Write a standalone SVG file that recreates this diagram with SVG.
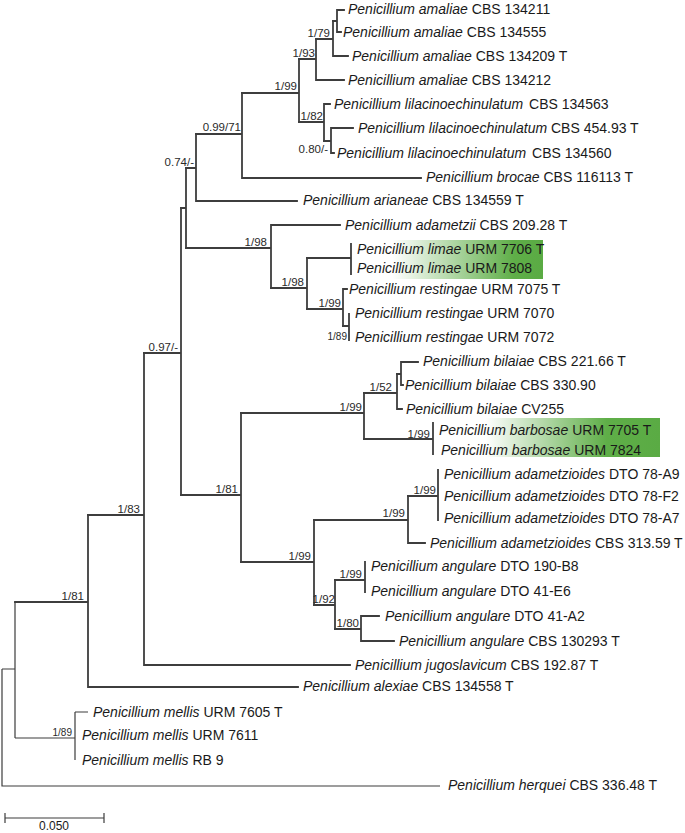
<svg xmlns="http://www.w3.org/2000/svg" width="685" height="833" viewBox="0 0 685 833">
<style>
.br{fill:none;stroke:#3d3d3d;stroke-width:1.8;stroke-linecap:square}
.thin{fill:none;stroke:#3d3d3d;stroke-width:1.2}
.leaf{font-family:"Liberation Sans",Arial,sans-serif;font-size:14px;fill:#1a1a1a}
.sp{font-style:italic}
.sup{font-family:"Liberation Sans",Arial,sans-serif;font-size:11.5px;fill:#2a2a2a;text-anchor:end}
.sm{font-size:10px}
.scale{font-family:"Liberation Sans",Arial,sans-serif;font-size:12px;fill:#1a1a1a;text-anchor:middle}
</style>
<defs>
<linearGradient id="g1" x1="0" y1="0" x2="1" y2="0">
<stop offset="0" stop-color="#ffffff"/>
<stop offset="0.22" stop-color="#ffffff"/>
<stop offset="0.85" stop-color="#5fae48"/>
<stop offset="1" stop-color="#5aab44"/>
</linearGradient>
<linearGradient id="g2" x1="0" y1="0" x2="1" y2="0">
<stop offset="0" stop-color="#ffffff"/>
<stop offset="0.28" stop-color="#ffffff"/>
<stop offset="0.78" stop-color="#5fae48"/>
<stop offset="1" stop-color="#5aab44"/>
</linearGradient>
</defs>
<rect width="685" height="833" fill="#ffffff"/>
<g id="highlights">
<rect x="350" y="240" width="193" height="39" fill="url(#g1)"/>
<rect x="418" y="418" width="242" height="39" fill="url(#g2)"/>
</g>
<g id="connectors">
<path class="br" d="M337,10V32M337,10H344M337,32H341M333,21H337"/>
<path class="br" d="M333,21V56M333,56H348M316,39H333"/>
<path class="br" d="M316,39V80M316,80H344M299,59H316"/>
<path class="br" d="M331,128V153M331,128H353M331,153H334M324,141H331"/>
<path class="br" d="M324,104V141M324,104H330M299,122H324"/>
<path class="br" d="M299,59V122M242,93H299"/>
<path class="br" d="M242,93V178H421M196,134H242"/>
<path class="br" d="M196,134V201H297M186,168H196"/>
<path class="br" d="M186,168V248M181,208H186"/>
<path class="br" d="M271,225V288M271,225H340M186,248H271"/>
<path class="br" d="M307,258V309M271,288H307"/>
<path class="br" d="M351,244V274M307,258H351"/>
<path class="br" d="M343,289V326M343,289H347M307,309H343"/>
<path class="br" d="M349,314V340M343,326H349"/>
<path class="br" d="M181,208V495M144,353H181"/>
<path class="br" d="M401,362V385M401,362H418M401,385H403M397,374H401"/>
<path class="br" d="M397,374V409H402M364,393H397"/>
<path class="br" d="M433,423V454M364,439H433"/>
<path class="br" d="M364,393V439M241,413H364"/>
<path class="br" d="M438,470V520M408,496H438"/>
<path class="br" d="M408,496V543H425M314,520H408"/>
<path class="br" d="M365,562V592M335,580H365"/>
<path class="br" d="M361,616V641H394M361,616H379M335,629H361"/>
<path class="br" d="M335,580V629M314,605H335"/>
<path class="br" d="M314,520V605M241,562H314"/>
<path class="br" d="M241,413V562M181,495H241"/>
<path class="br" d="M144,353V665H350M88,515H144"/>
<path class="br" d="M88,515V687H298M15,602H88"/>
<path class="thin" d="M75,712V760M75,712H88M15,738H75"/>
<path class="thin" d="M15,602V738M2,669H15"/>
<path class="thin" d="M2,669V786H440"/>
</g>
<g id="leaves">
<g id="L1"><text class="leaf" x="348" y="14"><tspan class="sp">Penicillium amaliae</tspan><tspan dx="4">CBS 134211</tspan></text></g>
<g id="L2"><text class="leaf" x="343" y="37"><tspan class="sp">Penicillium amaliae</tspan><tspan dx="4">CBS 134555</tspan></text></g>
<g id="L3"><text class="leaf" x="352" y="61"><tspan class="sp">Penicillium amaliae</tspan> CBS 134209 T</text></g>
<g id="L4"><text class="leaf" x="348" y="85"><tspan class="sp">Penicillium amaliae</tspan> CBS 134212</text></g>
<g id="L5"><text class="leaf" x="334" y="109"><tspan class="sp">Penicillium lilacinoechinulatum</tspan><tspan dx="6">CBS 134563</tspan></text></g>
<g id="L6"><text class="leaf" x="358" y="133"><tspan class="sp">Penicillium lilacinoechinulatum</tspan> CBS 454.93 T</text></g>
<g id="L7"><text class="leaf" x="337" y="158"><tspan class="sp">Penicillium lilacinoechinulatum</tspan><tspan dx="6">CBS 134560</tspan></text></g>
<g id="L8"><text class="leaf" x="426" y="182"><tspan class="sp">Penicillium brocae</tspan> CBS 116113 T</text></g>
<g id="L9"><text class="leaf" x="303" y="205"><tspan class="sp">Penicillium arianeae</tspan> CBS 134559 T</text></g>
<g id="L10"><text class="leaf" x="345" y="230"><tspan class="sp">Penicillium adametzii</tspan> CBS 209.28 T</text></g>
<g id="L11"><text class="leaf" x="357" y="254"><tspan class="sp">Penicillium limae</tspan> URM 7706 T</text></g>
<g id="L12"><text class="leaf" x="357" y="273"><tspan class="sp">Penicillium limae</tspan> URM 7808</text></g>
<g id="L13"><text class="leaf" x="349" y="294"><tspan class="sp">Penicillium restingae</tspan> URM 7075 T</text></g>
<g id="L14"><text class="leaf" x="355" y="318"><tspan class="sp">Penicillium restingae</tspan> URM 7070</text></g>
<g id="L15"><text class="leaf" x="355" y="342"><tspan class="sp">Penicillium restingae</tspan> URM 7072</text></g>
<g id="L16"><text class="leaf" x="423" y="366"><tspan class="sp">Penicillium bilaiae</tspan> CBS 221.66 T</text></g>
<g id="L17"><text class="leaf" x="405" y="390"><tspan class="sp">Penicillium bilaiae</tspan> CBS 330.90</text></g>
<g id="L18"><text class="leaf" x="406" y="414"><tspan class="sp">Penicillium bilaiae</tspan> CV255</text></g>
<g id="L19"><text class="leaf" x="439" y="435"><tspan class="sp">Penicillium barbosae</tspan><tspan dx="4">URM 7705 T</tspan></text></g>
<g id="L20"><text class="leaf" x="441" y="455"><tspan class="sp">Penicillium barbosae</tspan><tspan dx="4">URM 7824</tspan></text></g>
<g id="L21"><text class="leaf" x="444" y="479"><tspan class="sp">Penicillium adametzioides</tspan> DTO 78-A9</text></g>
<g id="L22"><text class="leaf" x="444" y="501"><tspan class="sp">Penicillium adametzioides</tspan> DTO 78-F2</text></g>
<g id="L23"><text class="leaf" x="444" y="523"><tspan class="sp">Penicillium adametzioides</tspan> DTO 78-A7</text></g>
<g id="L24"><text class="leaf" x="430" y="548"><tspan class="sp">Penicillium adametzioides</tspan> CBS 313.59 T</text></g>
<g id="L25"><text class="leaf" x="371" y="571"><tspan class="sp">Penicillium angulare</tspan> DTO 190-B8</text></g>
<g id="L26"><text class="leaf" x="371" y="596"><tspan class="sp">Penicillium angulare</tspan> DTO 41-E6</text></g>
<g id="L27"><text class="leaf" x="385" y="621"><tspan class="sp">Penicillium angulare</tspan> DTO 41-A2</text></g>
<g id="L28"><text class="leaf" x="399" y="646"><tspan class="sp">Penicillium angulare</tspan> CBS 130293 T</text></g>
<g id="L29"><text class="leaf" x="355" y="670"><tspan class="sp">Penicillium jugoslavicum</tspan> CBS 192.87 T</text></g>
<g id="L30"><text class="leaf" x="303" y="691"><tspan class="sp">Penicillium alexiae</tspan> CBS 134558 T</text></g>
<g id="L31"><text class="leaf" x="93" y="717"><tspan class="sp">Penicillium mellis</tspan> URM 7605 T</text></g>
<g id="L32"><text class="leaf" x="82" y="740"><tspan class="sp">Penicillium mellis</tspan> URM 7611</text></g>
<g id="L33"><text class="leaf" x="82" y="765"><tspan class="sp">Penicillium mellis</tspan> RB 9</text></g>
<g id="L34"><text class="leaf" x="448" y="790"><tspan class="sp">Penicillium herquei</tspan> CBS 336.48 T</text></g>
</g>
<g id="supports">
<g id="n-1-79"><text class="sup" x="330" y="37">1/79</text></g>
<g id="n-1-93"><text class="sup" x="315" y="57">1/93</text></g>
<g id="n-1-99a"><text class="sup" x="297" y="90">1/99</text></g>
<g id="n-1-82"><text class="sup" x="323" y="120">1/82</text></g>
<g id="n-080"><text class="sup" x="328" y="153">0.80/-</text></g>
<g id="n-099-71"><text class="sup" x="241" y="131">0.99/71</text></g>
<g id="n-074"><text class="sup" x="194" y="166">0.74/-</text></g>
<g id="n-1-98a"><text class="sup" x="267" y="246">1/98</text></g>
<g id="n-1-98b"><text class="sup" x="304" y="286">1/98</text></g>
<g id="n-1-99b"><text class="sup" x="341" y="307">1/99</text></g>
<g id="n-1-89a"><text class="sup sm" x="347" y="340">1/89</text></g>
<g id="n-097"><text class="sup" x="178" y="351">0.97/-</text></g>
<g id="n-1-52"><text class="sup" x="392" y="391">1/52</text></g>
<g id="n-1-99c"><text class="sup" x="362" y="411">1/99</text></g>
<g id="n-1-99d"><text class="sup" x="430" y="438">1/99</text></g>
<g id="n-1-81a"><text class="sup" x="238" y="493">1/81</text></g>
<g id="n-1-99e"><text class="sup" x="436" y="494">1/99</text></g>
<g id="n-1-99f"><text class="sup" x="405" y="517">1/99</text></g>
<g id="n-1-99g"><text class="sup" x="311" y="560">1/99</text></g>
<g id="n-1-99h"><text class="sup" x="362" y="578">1/99</text></g>
<g id="n-1-92"><text class="sup" x="335" y="603">1/92</text></g>
<g id="n-1-80"><text class="sup" x="359" y="627">1/80</text></g>
<g id="n-1-83"><text class="sup" x="140" y="513">1/83</text></g>
<g id="n-1-81b"><text class="sup" x="84" y="600">1/81</text></g>
<g id="n-1-89b"><text class="sup sm" x="72" y="736">1/89</text></g>
</g>
<g id="scalebar">
<path class="thin" d="M5,818H104M5,813V823M104,813V823"/>
<text class="scale" x="54" y="830">0.050</text>
</g>
</svg>
